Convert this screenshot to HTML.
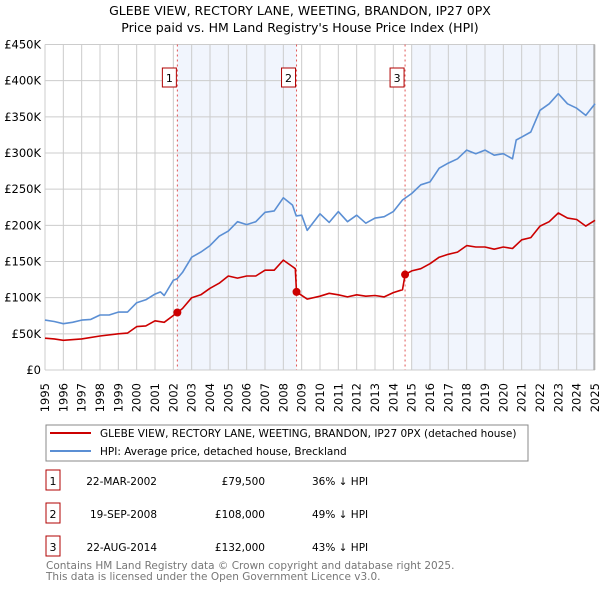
<!DOCTYPE html>
<html><head><meta charset="utf-8"><style>
body{margin:0;background:#fff;font-family:"DejaVu Sans","Liberation Sans",sans-serif;}
svg text{font-family:"DejaVu Sans","Liberation Sans",sans-serif;}
</style></head><body>
<svg id="c" width="600" height="590" xmlns="http://www.w3.org/2000/svg">
<text x="300" y="15" text-anchor="middle" font-size="12.5" fill="#000">GLEBE VIEW, RECTORY LANE, WEETING, BRANDON, IP27 0PX</text>
<text x="300" y="32" text-anchor="middle" font-size="12.5" fill="#000">Price paid vs. HM Land Registry's House Price Index (HPI)</text>
<g id="plot"></g>
<rect x="46" y="425" width="482" height="36" fill="#fff" stroke="#888"/>
<line x1="50" y1="433" x2="91" y2="433" stroke="#cc0000" stroke-width="2"/>
<text x="100" y="437" font-size="10.5">GLEBE VIEW, RECTORY LANE, WEETING, BRANDON, IP27 0PX (detached house)</text>
<line x1="50" y1="451" x2="91" y2="451" stroke="#5b8fd4" stroke-width="2"/>
<text x="100" y="455" font-size="10.5">HPI: Average price, detached house, Breckland</text>
<g id="tbl"></g>
<text x="46" y="569" font-size="10.5" fill="#777">Contains HM Land Registry data © Crown copyright and database right 2025.</text>
<text x="46" y="580" font-size="10.5" fill="#777">This data is licensed under the Open Government Licence v3.0.</text>
</svg>
<script>
const hpiYears=[1995,1995.5,1996,1996.5,1997,1997.5,1998,1998.5,1999,1999.5,2000,2000.5,2001,2001.3,2001.5,2002,2002.2,2002.5,2003,2003.5,2004,2004.5,2005,2005.5,2006,2006.5,2007,2007.5,2008,2008.5,2008.7,2009,2009.3,2010,2010.5,2011,2011.5,2012,2012.5,2013,2013.5,2014,2014.5,2015,2015.5,2016,2016.5,2017,2017.5,2018,2018.5,2019,2019.5,2020,2020.5,2020.7,2021,2021.5,2022,2022.5,2023,2023.5,2024,2024.5,2025];
const hpiValues=[69,67,64,66,69,70,76,76,80,80,93,97,105,108,103,124,126,135,156,163,172,185,192,205,201,205,218,220,238,228,213,214,193,216,204,219,205,214,203,210,212,219,235,244,256,260,279,286,292,304,299,304,297,299,292,318,322,329,359,368,382,368,362,352,368];
const propYears=[1995,1995.5,1996,1997,1998,1999,1999.5,2000,2000.5,2001,2001.5,2002.22,2002.5,2003,2003.5,2004,2004.5,2005,2005.5,2006,2006.5,2007,2007.5,2008,2008.5,2008.65,2008.72,2009.3,2010,2010.5,2011,2011.5,2012,2012.5,2013,2013.5,2014,2014.5,2014.64,2015,2015.5,2016,2016.5,2017,2017.5,2018,2018.5,2019,2019.5,2020,2020.5,2021,2021.5,2022,2022.5,2023,2023.5,2024,2024.5,2025];
const propValues=[44,43,41,43,47,50,51,60,61,68,66,79.5,85,100,104,113,120,130,127,130,130,138,138,152,143,140,108,98,102,106,104,101,104,102,103,101,107,111,132,137,140,147,156,160,163,172,170,170,167,170,168,180,183,199,205,217,210,208,199,207];
const saleLabels=["1","2","3"];
const saleYears=[2002.22,2008.72,2014.64];
const saleValues=[79.5,108,132];
const saleDates=["22-MAR-2002","19-SEP-2008","22-AUG-2014"];
const salePrices=["£79,500","£108,000","£132,000"];
const saleDiffs=["36% ↓ HPI","49% ↓ HPI","43% ↓ HPI"];
const yTicks=[0,50,100,150,200,250,300,350,400,450];
const yTickLabels=["£0","£50K","£100K","£150K","£200K","£250K","£300K","£350K","£400K","£450K"];
const xTicks=[1995,1996,1997,1998,1999,2000,2001,2002,2003,2004,2005,2006,2007,2008,2009,2010,2011,2012,2013,2014,2015,2016,2017,2018,2019,2020,2021,2022,2023,2024,2025];

const NS="http://www.w3.org/2000/svg";
const L=45,R=595,T=44.5,B=370;
const xs=y=>L+(y-1995)/30*(R-L);
const ys=v=>B-v/450*(B-T);
const plot=document.getElementById('plot');
function mk(tag,at,parent){const e=document.createElementNS(NS,tag);for(const k in at)e.setAttribute(k,at[k]);(parent||plot).appendChild(e);return e;}
let s1=mk('rect',{x:xs(saleYears[0]),y:T,width:xs(saleYears[1])-xs(saleYears[0]),height:B-T,fill:'#eef3fc',opacity:0.8});


let s2=mk('rect',{x:xs(2015),y:T,width:R-xs(2015),height:B-T,fill:'#eef3fc',opacity:0.8});


yTicks.forEach((v,i)=>{
 let g=mk('line',{x1:L,x2:R,y1:ys(v),y2:ys(v),stroke:'#ccc','stroke-width':1});
 
 
 let t=mk('text',{x:L-4,y:ys(v)+4,'text-anchor':'end','font-size':'11.5',fill:'#000'});
 t.textContent=yTickLabels[i];
 
 
});
xTicks.forEach(y=>{
 let g=mk('line',{x1:xs(y),x2:xs(y),y1:T,y2:B,stroke:'#ccc','stroke-width':1});
 
 
 let t=mk('text',{x:0,y:0,'text-anchor':'end','font-size':'11.5',transform:`translate(${xs(y)+4},383) rotate(-90)`});
 t.textContent=y;
 
 
});
let ax=mk('line',{x1:R-1,x2:R-1,y1:T,y2:B,stroke:'#999'});


saleYears.forEach((y,i)=>{
 let l=mk('line',{x1:xs(y),x2:xs(y),y1:T,y2:B,stroke:'#e05555','stroke-dasharray':'2,3','stroke-width':1});
 
 
 let b=mk('rect',{x:xs(y)-15,y:68,width:14,height:19,fill:'#fff',stroke:'#b00000'});
 
 
 let t=mk('text',{x:xs(y)-8,y:82,'text-anchor':'middle','font-size':'11'});
 t.textContent=saleLabels[i];
 
 
});
function path(xa,va,color,name){
 let d=xa.map((y,i)=>(i?'L':'M')+xs(y).toFixed(1)+','+ys(va[i]).toFixed(1)).join(' ');
 let p=mk('path',{d:d,fill:'none',stroke:color,'stroke-width':1.6,'stroke-linejoin':'round'});
 
 
}
path(hpiYears,hpiValues,'#5b8fd4','hpi-line');
path(propYears,propValues,'#cc0000','property-line');
saleYears.forEach((y,i)=>{
 let c=mk('circle',{cx:xs(y),cy:ys(saleValues[i]),r:4,fill:'#cc0000'});
 
 
});
const tbl=document.getElementById('tbl');
saleLabels.forEach((s,i)=>{
 const yy=483+i*33;
 let b=mk('rect',{x:46,y:yy-13,width:14,height:20,fill:'#fff',stroke:'#b00000'},tbl);
 
 
 let t=mk('text',{x:53,y:yy+2,'text-anchor':'middle','font-size':'11'},tbl);t.textContent=s;
 
 
 let d=mk('text',{x:157,y:yy+2,'text-anchor':'end','font-size':'10.5'},tbl);d.textContent=saleDates[i];
 
 
 let p=mk('text',{x:265,y:yy+2,'text-anchor':'end','font-size':'10.5'},tbl);p.textContent=salePrices[i];
 
 
 let h=mk('text',{x:312,y:yy+2,'font-size':'10.5'},tbl);h.textContent=saleDiffs[i];
 
 
});
</script>
</body></html>
